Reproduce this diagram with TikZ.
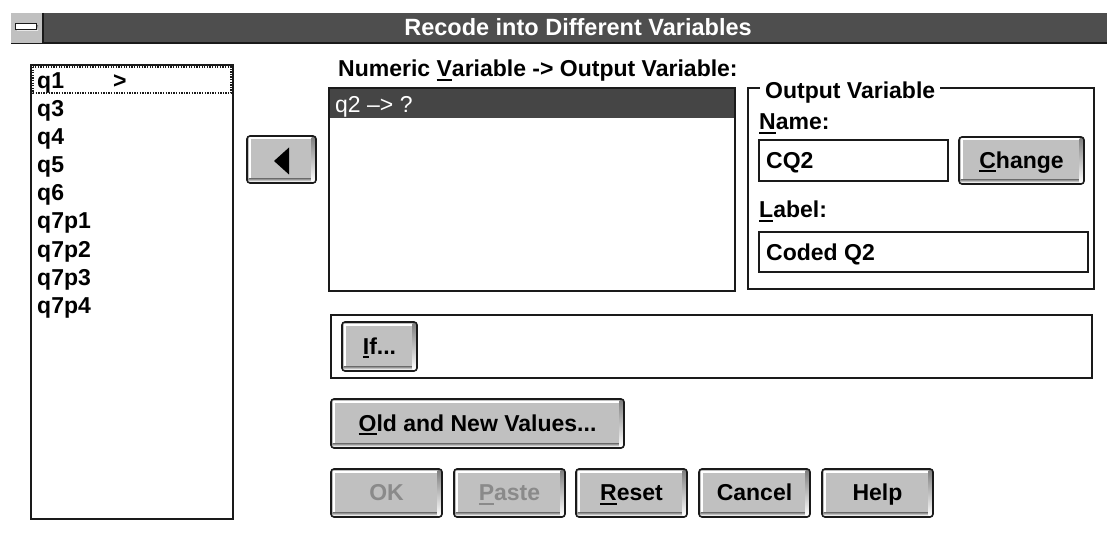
\documentclass[tikz,border=0pt]{standalone}
\usepackage{fontspec}
\setmainfont{Liberation Sans}
\usetikzlibrary{calc}
\definecolor{face}{HTML}{C0C0C0}
\definecolor{shade}{HTML}{808080}
\definecolor{barcol}{HTML}{4E4E4E}
\definecolor{selcol}{HTML}{454545}
\definecolor{dis}{HTML}{8A8A8A}
\definecolor{frame}{HTML}{1A1A1A}
\newcommand\wfont{\fontsize{23}{27}\selectfont\bfseries}
\newcommand\ulc[1]{\sbox0{#1}\rlap{\rule[-4pt]{\wd0}{1.8pt}}\usebox0}
\tikzset{
  boxline/.style={draw=frame, line width=1.6pt},
  lbl/.style={anchor=base west, font=\wfont, inner sep=0pt},
  btntext/.style={font=\wfont, text height=16.5pt, text depth=0pt, inner sep=0pt},
  btnframe/.style={draw=frame, line width=1.6pt, rounded corners=3pt}
}
\newcommand\wbtn[6]{%
  \fill[face, rounded corners=3pt] (#2,#3) rectangle (#4,#5);
  \fill[white] ({#2+1.5},{#3+1.5}) rectangle ({#4-1.5},{#3+3.5});
  \fill[white] ({#2+1.5},{#3+1.5}) rectangle ({#2+3.5},{#5-1.5});
  \fill[shade] ({#2+1.5},{#5-1.5}) rectangle ({#4-1.5},{#5-4.5});
  \fill[shade] ({#4-1.5},{#3+1.5}) rectangle ({#4-4.5},{#5-1.5});
  \draw[btnframe] (#2,#3) rectangle (#4,#5);
  \node[btntext] (#1) at ({(#2+#4)/2},{(#3+#5)/2-0.5}) {#6};}
\begin{document}
\begin{tikzpicture}[x=1pt,y=-1pt]
\useasboundingbox[fill=white] (0,0) rectangle (1107,537);
% title bar
\fill[barcol] (11,13) rectangle (1107,43);
\draw[line width=1.5pt, draw=frame] (11,43) -- (1107,43);
\fill[face] (11,13) rectangle (43,43);
\draw[line width=1.5pt, draw=frame] (43,13) -- (43,43);
\fill[shade] (17,25.5) rectangle (38,31);
\draw[fill=white, line width=1.3pt, draw=frame] (15.5,23.5) rectangle (36.5,29.5);
\node[anchor=base, font=\fontsize{23.5}{28}\selectfont\bfseries, text=white, inner sep=0pt] (title) at (578,36) {Recode into Different Variables};
% left list
\draw[boxline, fill=white] (31,65) rectangle (233,519);
\draw[draw=frame, line width=1.2pt, dash pattern=on 1.3pt off 1.3pt] (33,67) rectangle (231,93);
\node[lbl] (i1) at (37,89) {q1};
\node[lbl] (i1b) at (113,89) {>};
\node[lbl] (i2) at (37,117) {q3};
\node[lbl] (i3) at (37,145) {q4};
\node[lbl] (i4) at (37,173) {q5};
\node[lbl] (i5) at (37,201) {q6};
\node[lbl] (i6) at (37,229) {q7p1};
\node[lbl] (i7) at (37,257) {q7p2};
\node[lbl] (i8) at (37,285) {q7p3};
\node[lbl] (i9) at (37,313) {q7p4};
% arrow button
\wbtn{back}{247}{136}{316}{183}{}
\fill[black] (274,161) -- (289,147.5) -- (289,174.5) -- cycle;
% middle list
\node[lbl] (numlabel) at (338,77) {Numeric \ulc{V}ariable -> Output Variable:};
\draw[boxline, fill=white] (329,88) rectangle (735,291);
\fill[selcol] (330,89) rectangle (734,118);
\node[anchor=base west, inner sep=0pt, font=\fontsize{23}{27}\selectfont, text=white] (sel) at (335,113) {q2 --> ?};
% output variable group
\draw[boxline] (748,88) rectangle (1094,289);
\node[anchor=base west, fill=white, inner xsep=5pt, inner ysep=1pt, font=\wfont] (grp) at (760,99) {Output Variable};
\node[lbl] (namel) at (759,130) {\ulc{N}ame:};
\draw[boxline, fill=white] (759,140) rectangle (948,181);
\node[lbl] (cq) at (766,169) {CQ2};
\wbtn{change}{959}{137}{1084}{184}{\ulc{C}hange}
\node[lbl] (labell) at (759,218) {\ulc{L}abel:};
\draw[boxline, fill=white] (759,232) rectangle (1088,272);
\node[lbl] (coded) at (766,260) {Coded Q2};
% if box
\draw[boxline] (331,315) rectangle (1092,378);
\wbtn{ifb}{342}{322}{417}{371}{\ulc{I}f...}
% buttons
\wbtn{old}{331}{399}{624}{448}{\ulc{O}ld and New Values...}
\wbtn{ok}{331}{469}{442}{517}{\textcolor{dis}{OK}}
\wbtn{paste}{454}{469}{565}{517}{\textcolor{dis}{\ulc{P}aste}}
\wbtn{reset}{576}{469}{687}{517}{\ulc{R}eset}
\wbtn{cancel}{699}{469}{810}{517}{Cancel}
\wbtn{help}{822}{469}{933}{517}{Help}
\end{tikzpicture}
\end{document}
